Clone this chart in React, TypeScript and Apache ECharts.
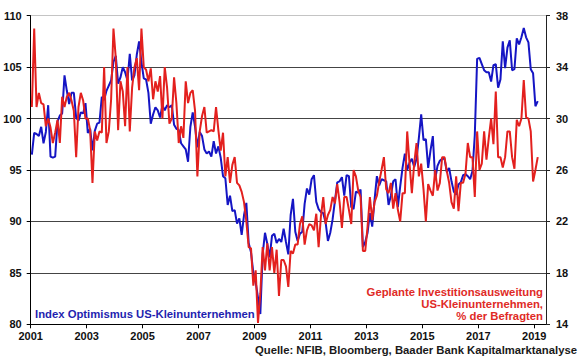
import React, { useEffect, useRef } from "react";
import * as echarts from "echarts";

const START_YEAR = 2001;

// NFIB Small Business Optimism Index, monthly from Jan 2001 (left axis)
const optimismIndex: number[] = [
  96.5, 98.6, 98.5, 98.3, 99.2, 97.6, 98.7, 101.3, 96.3, 96.2, 96.3, 99.7,
  100.3, 100.5, 104.2, 102.7, 101.4, 102.5, 102.5, 100.1, 99.8, 100.6, 100.5, 101.5,
  98.6, 99.0, 96.9, 98.8, 99.5, 99.6, 102.1, 101.8, 102.7, 103.2, 103.7, 105.5,
  106.1, 103.4, 104.0, 105.0, 104.5, 103.7, 106.3, 103.7, 104.2, 106.2, 107.5, 105.5,
  103.9, 103.8, 102.5, 99.5, 100.4, 101.1, 100.8, 100.1, 101.3, 100.8, 101.3, 101.1,
  101.3, 99.4, 99.0, 98.9, 97.6, 97.3, 97.0, 95.8, 99.2, 100.6, 99.2, 97.2,
  98.7, 98.3, 97.0, 96.6, 96.8, 96.3, 97.8, 96.6, 97.3, 96.2, 94.4, 94.2,
  91.6, 92.5, 91.0, 91.1, 89.8, 90.3, 88.7, 90.6, 91.8, 87.9, 87.0, 85.0,
  84.1, 82.6, 81.0, 86.8, 88.9, 87.8, 86.5, 88.6, 88.8, 87.9, 88.3, 88.0,
  89.3, 88.0, 86.8, 90.6, 92.2, 89.0, 88.1, 88.8, 89.0, 91.7, 93.2, 92.6,
  94.1, 94.5, 91.9, 91.2, 90.9, 90.8, 89.9, 88.1, 88.9, 90.2, 92.0, 93.8,
  93.9, 94.3, 92.5, 94.5, 94.4, 91.4, 91.2, 92.9, 92.8, 93.1, 87.5, 88.0,
  88.9, 90.8, 89.5, 92.1, 94.4, 93.5, 94.1, 94.0, 93.9, 91.6, 92.5, 93.9,
  94.1, 91.4, 93.4, 95.2, 96.6, 95.0, 95.7, 96.1, 95.3, 96.1, 98.1, 100.4,
  97.9, 98.0, 95.2, 96.9, 98.3, 94.1, 95.4, 95.9, 96.1, 96.1, 94.8, 95.2,
  93.9, 92.9, 92.6, 93.6, 93.8, 94.5, 94.6, 94.4, 94.1, 94.9, 98.4, 105.8,
  105.9, 105.3, 104.7, 104.5, 104.5, 103.6, 105.2, 105.3, 103.0, 103.8, 107.5, 104.9,
  106.9, 107.6, 104.7, 104.8, 107.8, 107.2, 107.9, 108.8, 107.9, 107.4, 104.8, 104.4,
  101.2, 101.7,
];

// Planned capital outlays, % of respondents, monthly from Jan 2001 (right axis)
const capexPlans: number[] = [
  30.9, 37.0, 30.9, 32.0, 31.2, 31.1, 29.4, 30.0, 29.3, 28.1, 28.9, 29.9,
  28.1, 31.7, 30.9, 31.7, 32.0, 31.4, 30.6, 27.0, 30.9, 32.0, 31.4, 30.0,
  30.0, 29.1, 25.0, 29.0, 28.3, 29.0, 28.9, 34.0, 28.1, 29.0, 31.5, 37.0,
  34.7, 29.1, 32.9, 32.1, 29.4, 34.0, 29.0, 32.4, 34.0, 34.7, 32.2, 37.0,
  34.0, 33.8, 32.9, 33.9, 31.5, 32.9, 32.1, 33.3, 30.0, 34.0, 32.4, 29.6,
  30.0, 33.2, 31.2, 28.1, 29.4, 28.5, 32.9, 31.2, 32.0, 32.2, 30.6, 25.5,
  29.0, 30.2, 30.9, 28.9, 29.0, 29.1, 29.0, 30.9, 29.1, 27.5, 28.9, 25.5,
  27.0, 25.0, 26.4, 27.0, 25.0, 24.8, 24.3, 23.5, 22.0, 20.0, 19.9, 17.0,
  18.2, 14.1, 16.4, 20.0, 18.2, 20.3, 18.2, 20.0, 18.0, 19.8, 16.2, 19.0,
  19.0, 18.5, 16.9, 19.7, 19.5, 20.2, 20.2, 21.8, 22.4, 20.2, 21.3, 21.8,
  21.7, 21.3, 22.6, 20.0, 22.4, 23.9, 21.8, 22.5, 22.9, 23.9, 23.4, 24.9,
  23.5, 21.5, 23.9, 23.9, 22.9, 21.8, 26.0, 25.5, 24.4, 23.9, 19.7, 19.7,
  21.6, 23.9, 22.1, 23.5, 24.0, 25.1, 26.0, 27.0, 24.5, 24.2, 25.0, 23.0,
  24.2, 22.9, 22.0, 24.2, 24.2, 29.0, 26.5, 24.2, 26.5, 28.1, 25.5, 26.5,
  24.5, 22.0, 24.9, 24.4, 24.0, 26.0, 24.4, 25.0, 27.0, 27.0, 25.9, 25.0,
  23.5, 23.0, 25.5, 22.8, 25.0, 25.0, 25.7, 28.1, 27.0, 27.0, 23.9, 29.0,
  26.0, 26.5, 29.0, 26.8, 28.5, 30.0, 28.0, 32.1, 27.0, 27.0, 26.2, 27.0,
  29.0, 29.0, 27.0, 26.1, 29.9, 29.4, 30.0, 33.0, 30.1, 30.0, 29.0, 25.1,
  26.0, 27.0,
];

const yearTicks: number[] = [2001, 2003, 2005, 2007, 2009, 2011, 2013, 2015, 2017, 2019];

const leftLabel = "Index Optimismus US-Kleinunternehmen";
const rightLabel = "Geplante Investitionsausweitung\nUS-Kleinunternehmen,\n% der Befragten";
const sourceLabel = "Quelle: NFIB, Bloomberg, Baader Bank Kapitalmarktanalyse";

const FONT = '"Liberation Sans", Arial, sans-serif';

function toMonthly(values: number[]): number[][] {
  return values.map((v, i) => [START_YEAR + (i + 0.5) / 12, v]);
}

export default function App() {
  const ref = useRef<HTMLDivElement>(null);

  useEffect(() => {
    if (!ref.current) return;
    const chart = echarts.init(ref.current, undefined, { renderer: "svg" });
    const axisLabelStyle = {
      fontFamily: FONT,
      fontSize: 11,
      fontWeight: "bold" as const,
      color: "#111",
    };
    chart.setOption({
      animation: false,
      backgroundColor: "#ffffff",
      grid: { left: 30.7, right: 34, top: 15.7, bottom: 34.7, containLabel: false },
      xAxis: {
        type: "value",
        min: 2001,
        max: 2019.42,
        axisLine: { show: true, lineStyle: { color: "#000", width: 1 } },
        axisTick: {
          show: true,
          length: 4,
          customValues: yearTicks,
          lineStyle: { color: "#000" },
        },
        axisLabel: {
          ...axisLabelStyle,
          customValues: yearTicks,
          margin: 6,
          formatter: (v: number) => String(Math.round(v)),
        },
        splitLine: { show: false },
      },
      yAxis: [
        {
          type: "value",
          position: "left",
          min: 80,
          max: 110,
          interval: 5,
          axisLine: { show: true, lineStyle: { color: "#000", width: 1 } },
          axisTick: { show: true, length: 4, lineStyle: { color: "#000" } },
          axisLabel: { ...axisLabelStyle, margin: 9 },
          splitLine: {
            show: true,
            lineStyle: {
              color: ["#444", "#444", "#444", "#444", "#444", "#444", "#c4c4c4"],
              width: 1,
            },
          },
        },
        {
          type: "value",
          position: "right",
          min: 14,
          max: 38,
          interval: 4,
          axisLine: { show: true, lineStyle: { color: "#222", width: 1 } },
          axisTick: { show: true, length: 4, lineStyle: { color: "#222" } },
          axisLabel: { ...axisLabelStyle, margin: 10 },
          splitLine: { show: false },
        },
      ],
      series: [
        {
          name: "Index Optimismus",
          type: "line",
          yAxisIndex: 0,
          data: toMonthly(optimismIndex),
          showSymbol: false,
          lineStyle: { color: "#1515c4", width: 2 },
          itemStyle: { color: "#1515c4" },
          z: 2,
        },
        {
          name: "Geplante Investitionsausweitung",
          type: "line",
          yAxisIndex: 1,
          data: toMonthly(capexPlans),
          showSymbol: false,
          lineStyle: { color: "#e3201e", width: 2 },
          itemStyle: { color: "#e3201e" },
          z: 3,
        },
      ],
      graphic: [
        {
          type: "text",
          z: 10,
          style: {
            text: leftLabel,
            x: 35,
            y: 314,
            align: "left",
            verticalAlign: "middle",
            font: `bold 11.3px ${FONT}`,
            fill: "#1f1fb0",
          },
        },
        {
          type: "text",
          z: 10,
          style: {
            text: rightLabel,
            x: 543,
            y: 285.5,
            align: "right",
            verticalAlign: "top",
            lineHeight: 12.3,
            font: `bold 11.3px ${FONT}`,
            fill: "#e02a26",
          },
        },
        {
          type: "text",
          z: 10,
          style: {
            text: sourceLabel,
            x: 577,
            y: 350,
            align: "right",
            verticalAlign: "middle",
            font: `bold 11.3px ${FONT}`,
            fill: "#1a1a1a",
          },
        },
      ],
    });
    return () => chart.dispose();
  }, []);

  return (
    <div
      ref={ref}
      style={{ position: "fixed", left: 0, top: 0, width: 580, height: 359 }}
    />
  );
}
